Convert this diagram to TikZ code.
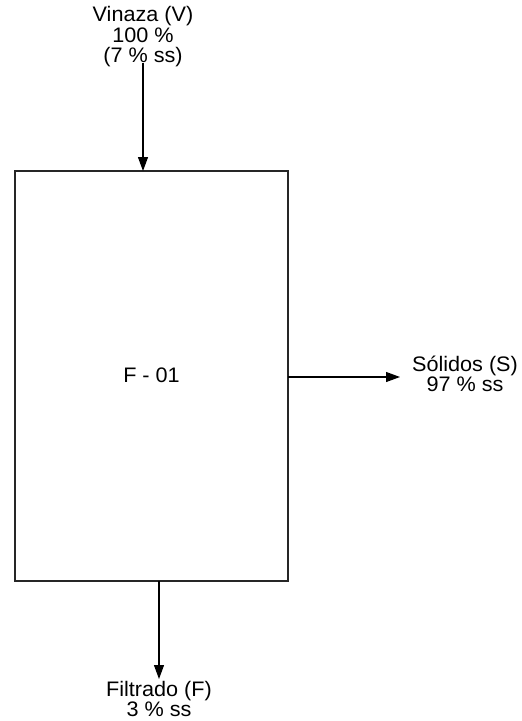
\documentclass[tikz,border=0pt]{standalone}
\usepackage{fontspec}
\setmainfont{Liberation Sans}[FakeStretch=1.03]
\usetikzlibrary{arrows.meta}
\begin{document}
\begin{tikzpicture}[x=1pt,y=-1pt,
  lbl/.style={inner sep=0pt, align=center, font=\fontsize{21}{20.5}\selectfont, anchor=base},
  flow/.style={line width=1.1pt, -{Triangle[length=14pt,width=10pt]}},
  unit/.style={draw=black!85, line width=1.2pt, minimum width=273pt, minimum height=410pt, inner sep=0pt}]
\useasboundingbox (0,0) rectangle (522,721);
\node[unit] (f) at (151.5,376) {};
\node[lbl] (flbl) at (151.5,382) {F - 01};
\node[lbl] (vin) at (143,62.5) {Vinaza (V)\\100 \%\\(7 \% ss)};
\node[lbl] (sol) at (465,391.5) {Sólidos (S)\\97 \% ss};
\node[lbl] (fil) at (159,716.5) {Filtrado (F)\\3 \% ss};
\coordinate (vin0) at (143,63);
\coordinate (vin1) at (143,171);
\coordinate (sol0) at (288,377);
\coordinate (sol1) at (400,377);
\coordinate (fil0) at (159,581);
\coordinate (fil1) at (159,679);
\draw[flow] (vin0) -- (vin1);
\draw[flow] (sol0) -- (sol1);
\draw[flow] (fil0) -- (fil1);
\end{tikzpicture}
\end{document}
